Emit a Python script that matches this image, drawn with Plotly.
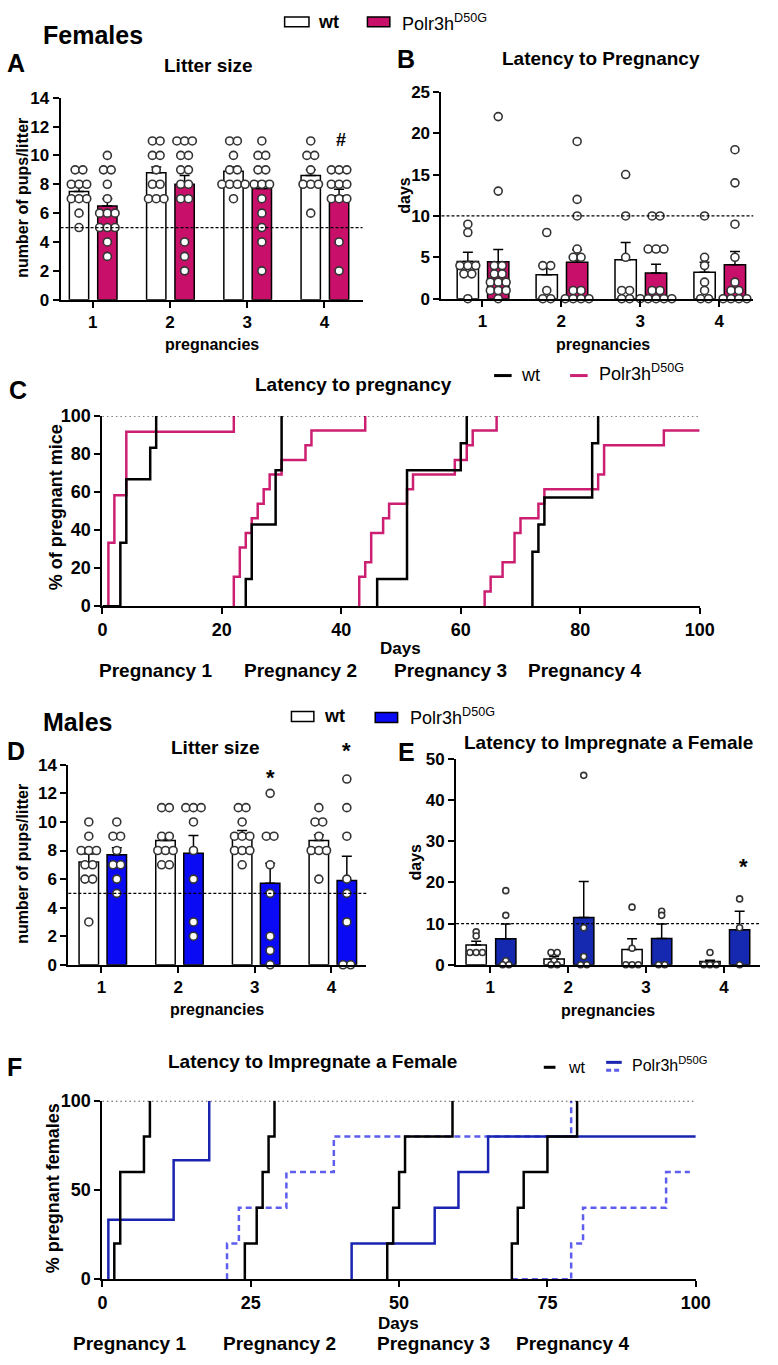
import plotly.graph_objects as go
from collections import Counter

W, H = 778, 1365
FONT = "Liberation Sans, Arial, sans-serif"
MAG = "#C8106A"
MAG_LINE = "#CC1F72"
BLUE_D = "#0A0AF5"
BLUE_E = "#1428B0"
BLUE_F = "#1A24B0"
BLUE_F_DASH = "#5D5DEE"

pregs = [1, 2, 3, 4]

# A - females, litter size
a_wt_mean = [7.5, 8.8, 8.9, 8.6]
a_wt_sem = [0.45, 0.4, 0.3, 0.4]
a_mut_mean = [6.5, 8.0, 7.7, 7.2]
a_mut_sem = [0.5, 0.6, 0.5, 0.45]
a_wt_pts = [[9, 9, 8, 8, 8, 7, 7, 7, 6, 5],
            [11, 11, 10, 10, 9, 8, 8, 7, 7, 7],
            [11, 11, 10, 9, 9, 8, 8, 8, 8, 7],
            [11, 10, 10, 9, 8, 8, 8, 6]]
a_mut_pts = [[10, 9, 9, 8, 7, 6, 6, 6, 5, 5, 5, 4, 3],
             [11, 11, 11, 10, 10, 9, 9, 8, 8, 7, 7, 4, 3, 2],
             [11, 10, 10, 9, 9, 8, 8, 8, 7, 6, 5, 4, 2],
             [9, 9, 9, 8, 8, 8, 7, 7, 7, 4, 2]]

# B - females, latency to pregnancy (days)
b_wt_mean = [4.5, 2.9, 4.7, 3.2]
b_wt_sem = [1.1, 0.9, 2.1, 1.2]
b_mut_mean = [4.45, 4.4, 3.1, 4.1]
b_mut_sem = [1.5, 1.5, 1.05, 1.6]
b_wt_pts = [[9, 8, 4, 4, 4, 3, 3, 0],
            [8, 4, 4, 1, 0, 0],
            [15, 10, 5, 1, 1, 0, 0],
            [10, 5, 4, 2, 1, 0, 0]]
b_mut_pts = [[22, 13, 4, 4, 3, 3, 2, 2, 2, 1, 1, 1, 0],
             [19, 12, 10, 6, 5, 5, 1, 1, 0, 0, 0, 0],
             [10, 10, 6, 6, 6, 1, 1, 0, 0, 0, 0, 0],
             [18, 14, 9, 5, 2, 1, 1, 0, 0, 0, 0]]

# C - cumulative % pregnant mice vs days
c_wt_days = [[0, 3, 4, 8, 9], [24, 24, 25, 29, 30], [46, 46, 51, 60, 61],
             [72, 72, 73, 74, 82, 83]]
c_wt_pct = [[0, 33.3, 66.7, 83.3, 100], [0, 14.3, 42.9, 71.4, 100],
            [0, 14.3, 71.4, 85.7, 100], [0, 28.6, 42.9, 57.1, 85.7, 100]]
c_mut_days = [[1, 1, 2, 4, 22],
              [22, 22, 23, 24, 25, 26, 27, 28, 30, 34, 35, 44],
              [43, 43, 44, 45, 47, 48, 51, 52, 59, 61, 62, 66],
              [64, 64, 65, 67, 69, 70, 73, 74, 83, 84, 94, 100]]
c_mut_pct = [[0, 33.3, 58.3, 91.7, 100],
             [0, 15.4, 30.8, 38.5, 46.2, 53.8, 61.5, 69.2, 76.9, 84.6, 92.3, 100],
             [0, 15.4, 23.1, 38.5, 46.2, 53.8, 61.5, 69.2, 76.9, 84.6, 92.3, 100],
             [0, 7.7, 15.4, 23.1, 38.5, 46.2, 53.8, 61.5, 69.2, 84.6, 92.3, 92.3]]

# D - males, litter size
d_wt_mean = [7.2, 8.7, 9.0, 8.7]
d_wt_sem = [0.55, 0.4, 0.4, 0.4]
d_mut_mean = [7.7, 7.8, 5.7, 5.9]
d_mut_sem = [0.5, 1.25, 1.4, 1.7]
d_wt_pts = [[10, 9, 8, 8, 8, 7, 7, 6, 6, 3],
            [11, 11, 9, 9, 8, 8, 8, 7, 7],
            [11, 11, 10, 9, 9, 9, 8, 8, 8, 7],
            [11, 10, 10, 9, 8, 8, 8, 6]]
d_mut_pts = [[10, 9, 9, 8, 7, 7, 6, 5],
             [11, 11, 11, 10, 8, 6, 3, 2],
             [12, 9, 9, 7, 5, 2, 1, 0],
             [13, 11, 9, 6, 5, 3, 0, 0]]

# E - males, latency to impregnate a female (days)
e_wt_mean = [4.8, 1.4, 3.7, 0.8]
e_wt_sem = [0.9, 0.6, 2.6, 0.3]
e_mut_mean = [6.3, 11.5, 6.4, 8.5]
e_mut_sem = [3.6, 8.7, 3.5, 4.5]
e_wt_pts = [[8, 7, 3, 3, 3], [3, 3, 1, 0, 0], [14, 4, 0, 0, 0], [3, 0, 0, 0]]
e_mut_pts = [[18, 12, 1, 0, 0], [46, 9, 2, 0, 0], [13, 12, 0, 0], [16, 9, 0]]

# F - % pregnant females vs days
f_wt_days = [[2, 2, 3, 7, 8], [24, 24, 26, 27, 28, 29], [48, 48, 49, 50, 51, 59],
             [69, 69, 70, 71, 75, 80]]
f_wt_pct = [[0, 20, 60, 80, 100], [0, 20, 40, 60, 80, 100], [0, 20, 40, 60, 80, 100],
            [0, 20, 40, 60, 80, 100]]
f_mut_solid_days = [[1, 1, 12, 18], [42, 42, 56, 60, 65, 100]]
f_mut_solid_pct = [[0, 33.3, 66.7, 100], [0, 20, 40, 60, 80, 80]]
f_mut_dash_days = [[21, 21, 23, 31, 39, 79], [69, 79, 81, 95, 99]]
f_mut_dash_pct = [[0, 20, 40, 60, 80, 100], [0, 20, 40, 60, 60]]


def xd(a, b):
    return [a / W, b / W]


def yd(top, bottom):
    return [1 - bottom / H, 1 - top / H]


def spread(vals, center, step):
    counts = Counter(vals)
    seen = {}
    xs = []
    for v in vals:
        n = counts[v]
        i = seen.get(v, 0)
        seen[v] = i + 1
        xs.append(center + (i - (n - 1) / 2) * step)
    return xs, list(vals)


fig = go.Figure()


def bar_panel(xa, ya, wt, mut, fill, offs, bw, step, msize):
    for (mean, sem, pts), dx, col in [(wt, offs[0], "white"), (mut, offs[1], fill)]:
        fig.add_trace(go.Bar(
            x=[p + dx for p in pregs], y=mean, width=bw, xaxis=xa, yaxis=ya,
            marker=dict(color=col, line=dict(color="black", width=1.5)),
            error_y=dict(type="data", array=sem, arrayminus=[0] * len(sem),
                         symmetric=False, color="black", thickness=1.5, width=5),
            showlegend=False))
        xs, ys = [], []
        for p, vals in zip(pregs, pts):
            a, b = spread(vals, p + dx, step)
            xs += a
            ys += b
        fig.add_trace(go.Scatter(
            x=xs, y=ys, mode="markers", xaxis=xa, yaxis=ya, cliponaxis=False,
            marker=dict(symbol="circle", size=msize, color="white",
                        line=dict(color="#333333", width=1.6)),
            showlegend=False))


bar_panel("x", "y", (a_wt_mean, a_wt_sem, a_wt_pts), (a_mut_mean, a_mut_sem, a_mut_pts),
          MAG, (-0.177, 0.19), 0.25, 0.1, 8)
bar_panel("x2", "y2", (b_wt_mean, b_wt_sem, b_wt_pts), (b_mut_mean, b_mut_sem, b_mut_pts),
          MAG, (-0.185, 0.2), 0.27, 0.1, 8)
bar_panel("x4", "y4", (d_wt_mean, d_wt_sem, d_wt_pts), (d_mut_mean, d_mut_sem, d_mut_pts),
          BLUE_D, (-0.165, 0.2), 0.254, 0.1, 8)
bar_panel("x5", "y5", (e_wt_mean, e_wt_sem, e_wt_pts), (e_mut_mean, e_mut_sem, e_mut_pts),
          BLUE_E, (-0.18, 0.2), 0.26, 0.08, 6)


def steps(xa, ya, days, pct, color, dash="solid", width=2.5):
    for d, p in zip(days, pct):
        fig.add_trace(go.Scatter(x=d, y=p, mode="lines", line_shape="hv", xaxis=xa, yaxis=ya,
                                 line=dict(color=color, width=width, dash=dash),
                                 cliponaxis=False, showlegend=False))


steps("x3", "y3", c_mut_days, c_mut_pct, MAG_LINE)
steps("x3", "y3", c_wt_days, c_wt_pct, "black")
steps("x6", "y6", f_mut_dash_days, f_mut_dash_pct, BLUE_F_DASH, dash="6px,4px")
steps("x6", "y6", f_mut_solid_days, f_mut_solid_pct, BLUE_F)
steps("x6", "y6", f_wt_days, f_wt_pct, "black")

axis_base = dict(showline=True, linecolor="black", linewidth=2, ticks="outside",
                 ticklen=6, tickwidth=2, tickcolor="black", showgrid=False, zeroline=False,
                 tickfont=dict(family=FONT, size=17, color="black", weight="bold"))


def ax(**kw):
    d = dict(axis_base)
    d.update(kw)
    return d


big = dict(family=FONT, size=18, color="black", weight="bold")
layout = dict(
    xaxis=ax(domain=xd(57, 367), range=[0.584, 4.494], tickvals=pregs, anchor="y"),
    yaxis=ax(domain=yd(89, 294), range=[0, 14], dtick=2, anchor="x"),
    xaxis2=ax(domain=xd(448, 768), range=[0.481, 4.432], tickvals=pregs, anchor="y2"),
    yaxis2=ax(domain=yd(83, 293), range=[0, 25], dtick=5, anchor="x2"),
    xaxis3=ax(domain=xd(100, 713), range=[0, 100], dtick=20, anchor="y3", tickfont=big),
    yaxis3=ax(domain=yd(412, 605), range=[0, 100], dtick=20, anchor="x3", tickfont=big),
    xaxis4=ax(domain=xd(65, 371), range=[0.568, 4.456], tickvals=pregs, anchor="y4"),
    yaxis4=ax(domain=yd(766, 969), range=[0, 14], dtick=2, anchor="x4"),
    xaxis5=ax(domain=xd(463, 775), range=[0.5625, 4.4625], tickvals=pregs, anchor="y5"),
    yaxis5=ax(domain=yd(760, 969), range=[0, 50], dtick=10, anchor="x5"),
    xaxis6=ax(domain=xd(100, 709), range=[0, 100], dtick=25, anchor="y6", tickfont=big),
    yaxis6=ax(domain=yd(1107, 1288), range=[0, 100], dtick=50, anchor="x6", tickfont=big),
)

shapes = []
# reference lines
for xr, yr, val, dash in [("x", "y", 5, "3px,2px"), ("x2", "y2", 10, "3px,2px"),
                          ("x4", "y4", 5, "3px,2px"), ("x5", "y5", 10, "3px,2px"),
                          ("x3", "y3", 100, "1.5px,3px"), ("x6", "y6", 100, "1.5px,3px")]:
    shapes.append(dict(type="line", xref=xr + " domain", yref=yr, x0=0, x1=1, y0=val, y1=val,
                       line=dict(color="black", width=1.3, dash=dash), layer="above"))


def box(x0, x1, y0, y1, fill):
    shapes.append(dict(type="rect", xref="paper", yref="paper", x0=x0 / W, x1=x1 / W,
                       y0=1 - y1 / H, y1=1 - y0 / H, fillcolor=fill,
                       line=dict(color="black", width=1.5)))


def seg(x0, x1, y, color, width=3, dash="solid"):
    shapes.append(dict(type="line", xref="paper", yref="paper", x0=x0 / W, x1=x1 / W,
                       y0=1 - y / H, y1=1 - y / H, line=dict(color=color, width=width, dash=dash)))


box(287, 312, 7, 17, "white")
box(372, 395, 7, 17, MAG)
box(294, 317, 712, 722, "white")
box(380, 403, 713, 723, BLUE_D)
seg(502, 520, 371, "black")
seg(580, 598, 371, MAG_LINE)
seg(553, 565, 1073, "black")
seg(617, 633, 1068, BLUE_F)
seg(617, 633, 1076, BLUE_F_DASH, dash="5px,3px")

annotations = []


def txt(s, x, y, size, bold=True, xanchor="center", angle=0):
    annotations.append(dict(text=("<b>%s</b>" % s) if bold else s, x=x / W, y=1 - y / H,
                            xref="paper", yref="paper", showarrow=False, xanchor=xanchor,
                            yanchor="middle", textangle=angle,
                            font=dict(family=FONT, size=size, color="black")))


# headers and panel letters
txt("Females", 90, 25, 25)
txt("Males", 74, 723, 25)
for letter, x, y in [("A", 11, 54), ("B", 412, 50), ("C", 13, 386), ("D", 11, 752),
                     ("E", 412, 753), ("F", 10, 1073)]:
    txt(letter, x, y, 25)

# titles
txt("Litter size", 209, 56, 19)
txt("Latency to Pregnancy", 612, 49, 19)
txt("Latency to pregnancy", 358, 380, 19)
txt("Litter size", 216, 748, 19)
txt("Latency to Impregnate a Female", 619, 743, 19)
txt("Latency to Impregnate a Female", 316, 1067, 19)

# axis titles
txt("pregnancies", 212, 339, 16)
txt("pregnancies", 614, 339, 16)
txt("pregnancies", 218, 1014, 16)
txt("pregnancies", 619, 1015, 16)
txt("Days", 406, 648, 17)
txt("Days", 404, 1333, 17)
txt("number of pups/litter", 18, 191, 16, angle=-90)
txt("number of pups/litter", 18, 867, 16, angle=-90)
txt("days", 410, 188, 16, angle=-90)
txt("days", 421, 865, 16, angle=-90)
txt("% of pregnant mice", 52, 505, 18, angle=-90)
txt("% pregnant females", 50, 1196, 18, angle=-90)

# pregnancy labels
for s, x in [("Pregnancy 1", 154), ("Pregnancy 2", 303), ("Pregnancy 3", 457), ("Pregnancy 4", 595)]:
    txt(s, x, 670, 19)
for s, x in [("Pregnancy 1", 128), ("Pregnancy 2", 282), ("Pregnancy 3", 440), ("Pregnancy 4", 582)]:
    txt(s, x, 1353, 19)

# legends
txt("wt", 332, 12, 18)
txt("Polr3h<sup>D50G</sup>", 405, 13, 18, bold=False, xanchor="left")
txt("wt", 338, 717, 18)
txt("Polr3h<sup>D50G</sup>", 414, 717, 18, bold=False, xanchor="left")
txt("wt", 539, 370, 18, bold=False)
txt("Polr3h<sup>D50G</sup>", 608, 368, 18, bold=False, xanchor="left")
txt("wt", 587, 1073, 16, bold=False)
txt("Polr3h<sup>D50G</sup>", 642, 1070, 16, bold=False, xanchor="left")

# significance marks
txt("#", 345, 132, 18)
txt("*", 272, 779, 22)
txt("*", 350, 752, 22)
txt("*", 758, 869, 22)

layout.update(
    width=W, height=H, margin=dict(l=0, r=0, t=0, b=0),
    paper_bgcolor="white", plot_bgcolor="white", barmode="overlay",
    font=dict(family=FONT, color="black"), shapes=shapes, annotations=annotations,
    showlegend=False,
)
fig.update_layout(**layout)

# the page's default body margin would push the figure off the window origin
page_js = "document.body.style.margin='0';document.body.style.padding='0';"
fig.write_html("out.html", post_script=page_js, config={"displayModeBar": False})
